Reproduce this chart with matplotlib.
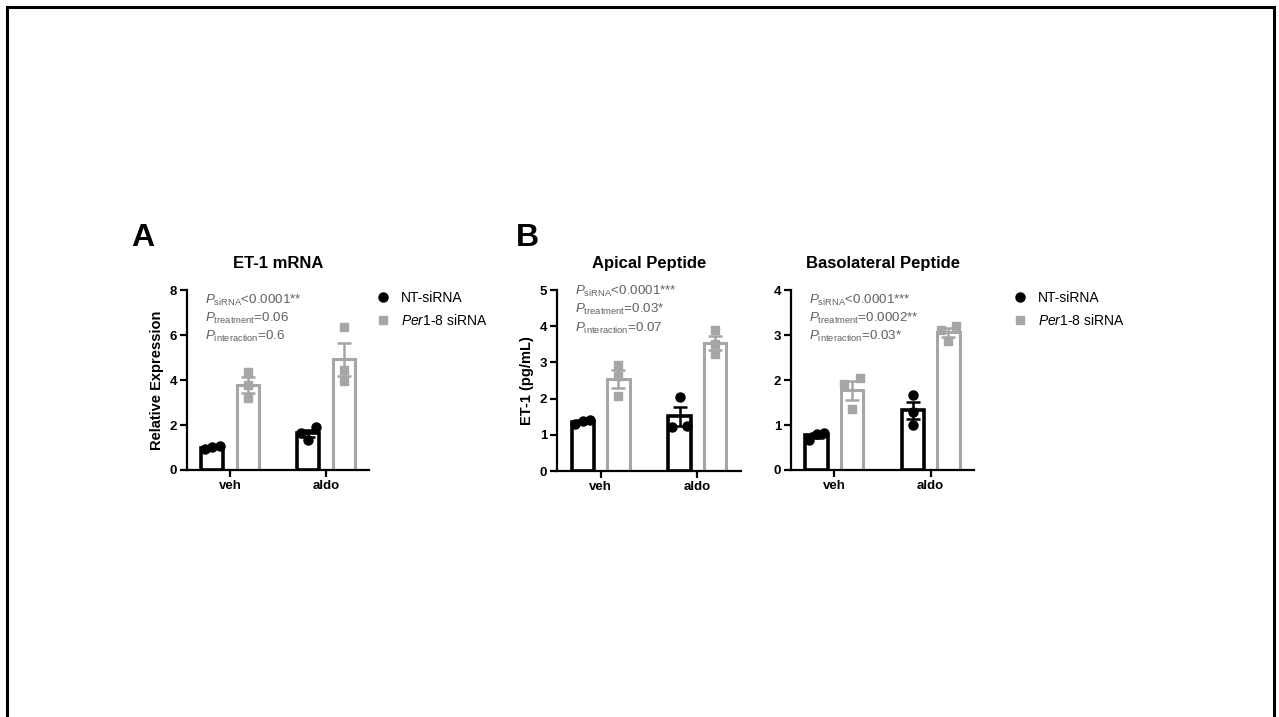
import numpy as np
import matplotlib
matplotlib.use("Agg")
import matplotlib.pyplot as plt
from matplotlib.lines import Line2D
from matplotlib.patches import Rectangle

plt.rcParams['font.family'] = ['Liberation Sans', 'DejaVu Sans']
plt.rcParams['mathtext.fontset'] = 'custom'
plt.rcParams['mathtext.rm'] = 'Liberation Sans'
plt.rcParams['mathtext.it'] = 'Liberation Sans:italic'
plt.rcParams['mathtext.bf'] = 'Liberation Sans:bold'

# Données
conditions = ['veh', 'aldo']
groupes = ['NT-siRNA', 'Per1-8 siRNA']

# A : ET-1 mRNA (expression relative), 3 réplicats par condition
arnm_nt = [[0.92, 1.07, 1.01], [1.90, 1.66, 1.33]]
arnm_per1 = [[4.37, 3.78, 3.19], [6.34, 4.44, 3.97]]

# B : peptide apical (pg/mL)
apical_nt = [[1.30, 1.42, 1.38], [2.05, 1.25, 1.22]]
apical_per1 = [[2.92, 2.62, 2.08], [3.90, 3.50, 3.23]]

# B : peptide basolatéral (pg/mL)
baso_nt = [[0.67, 0.83, 0.81], [1.67, 1.30, 1.01]]
baso_per1 = [[2.04, 1.91, 1.36], [3.21, 3.11, 2.87]]

stats_arnm = ['<0.0001**', '=0.06', '=0.6']
stats_apical = ['<0.0001***', '=0.03*', '=0.07']
stats_baso = ['<0.0001***', '=0.0002**', '=0.03*']

NOIR = 'black'
GRIS = '#a6a6a6'
GRIS_TEXTE = '#606060'

W, H = 1279, 717


def boite(gauche, haut, droite, bas):
    """Convertit une boîte en pixels (origine en haut à gauche) en coordonnées figure."""
    return [gauche / W, 1 - bas / H, (droite - gauche) / W, (bas - haut) / H]


def ecarter(vals, seuil):
    """Décale horizontalement les points qui se chevauchent (style Prism)."""
    vals = np.asarray(vals, dtype=float)
    ordre = np.argsort(vals)
    dec = np.zeros(len(vals))
    grappe = [ordre[0]]
    grappes = []
    for i in ordre[1:]:
        if vals[i] - vals[grappe[-1]] < seuil:
            grappe.append(i)
        else:
            grappes.append(grappe)
            grappe = [i]
    grappes.append(grappe)
    for g in grappes:
        if len(g) > 1:
            dec[g] = np.linspace(-0.08, 0.08, len(g))
    return dec


def panneau(ax, nt, per1, ymax, pas, ylabel, titre, stats, y_stats):
    x = np.arange(len(conditions))
    largeur = 0.23
    ecart = 0.185
    seuil = ymax * 0.04
    for serie, sgn, couleur, marq, taille, lw in [(nt, -1, NOIR, 'o', 6.5, 2.6),
                                                  (per1, 1, GRIS, 's', 5.5, 2.2)]:
        for i, pts in enumerate(serie):
            pts = np.asarray(pts)
            moy = pts.mean()
            sem = pts.std(ddof=1) / np.sqrt(len(pts))
            xc = x[i] + sgn * ecart
            ax.bar(xc, moy, width=largeur, facecolor='white', edgecolor=couleur,
                   linewidth=lw, zorder=2)
            ax.errorbar(xc, moy, yerr=sem, color=couleur, capsize=5, capthick=1.8,
                        elinewidth=1.8, zorder=3)
            ax.plot(xc + ecarter(pts, seuil), pts, linestyle='none', marker=marq,
                    markersize=taille, color=couleur, zorder=4)
    ax.set_xlim(-0.45, 1.45)
    ax.set_ylim(0, ymax)
    ax.set_yticks(np.arange(0, ymax + 0.01, pas))
    ax.set_xticks(x)
    ax.set_xticklabels(conditions)
    for s in ['top', 'right']:
        ax.spines[s].set_visible(False)
    for s in ['left', 'bottom']:
        ax.spines[s].set_linewidth(1.6)
    ax.tick_params(width=1.6, length=5, labelsize=9.5, pad=2)
    for lab in ax.get_xticklabels() + ax.get_yticklabels():
        lab.set_fontweight('bold')
    if ylabel:
        ax.set_ylabel(ylabel, fontsize=10.5, fontweight='bold', labelpad=4)
    ax.set_title(titre, fontsize=12, fontweight='bold', pad=16)
    noms = ['siRNA', 'treatment', 'interaction']
    for k, (nom, val) in enumerate(zip(noms, stats)):
        ax.text(0.1, y_stats - k * 0.1, r'$\mathit{P}_{\mathrm{' + nom + '}}$' + val,
                transform=ax.transAxes, fontsize=9.6, color=GRIS_TEXTE, va='center')


fig = plt.figure(figsize=(W / 100, H / 100), dpi=100)

# cadre de la diapositive
fig.patches.append(Rectangle((7 / W, -0.05), (1274 - 7) / W, 1.05 - 7 / H,
                             transform=fig.transFigure, fill=False,
                             edgecolor='black', linewidth=2.2))

ax_a = fig.add_axes(boite(187, 290, 369, 470))
panneau(ax_a, arnm_nt, arnm_per1, 8, 2, 'Relative Expression', 'ET-1 mRNA',
        stats_arnm, 0.94)

ax_b1 = fig.add_axes(boite(557, 290, 741, 471))
panneau(ax_b1, apical_nt, apical_per1, 5, 1, 'ET-1 (pg/mL)', 'Apical Peptide',
        stats_apical, 0.99)

ax_b2 = fig.add_axes(boite(791, 290, 974, 470))
panneau(ax_b2, baso_nt, baso_per1, 4, 1, None, 'Basolateral Peptide',
        stats_baso, 0.94)

fig.text(131 / W, 1 - 238 / H, 'A', fontsize=23, fontweight='bold', va='center')
fig.text(516 / W, 1 - 238 / H, 'B', fontsize=23, fontweight='bold', va='center')

poignees = [Line2D([], [], linestyle='none', marker='o', markersize=6.5, color=NOIR),
            Line2D([], [], linestyle='none', marker='s', markersize=5.5, color=GRIS)]
etiquettes = ['NT-siRNA', r'$\mathit{Per1}$-8 siRNA']
for x_leg in [376, 1013]:
    fig.legend(poignees, etiquettes, loc='upper left',
               bbox_to_anchor=(x_leg / W, 1 - 291 / H), frameon=False,
               fontsize=10, handlelength=1.0, handletextpad=0.8,
               labelspacing=0.6, borderpad=0, borderaxespad=0)

fig.savefig('out.png', dpi=100)
